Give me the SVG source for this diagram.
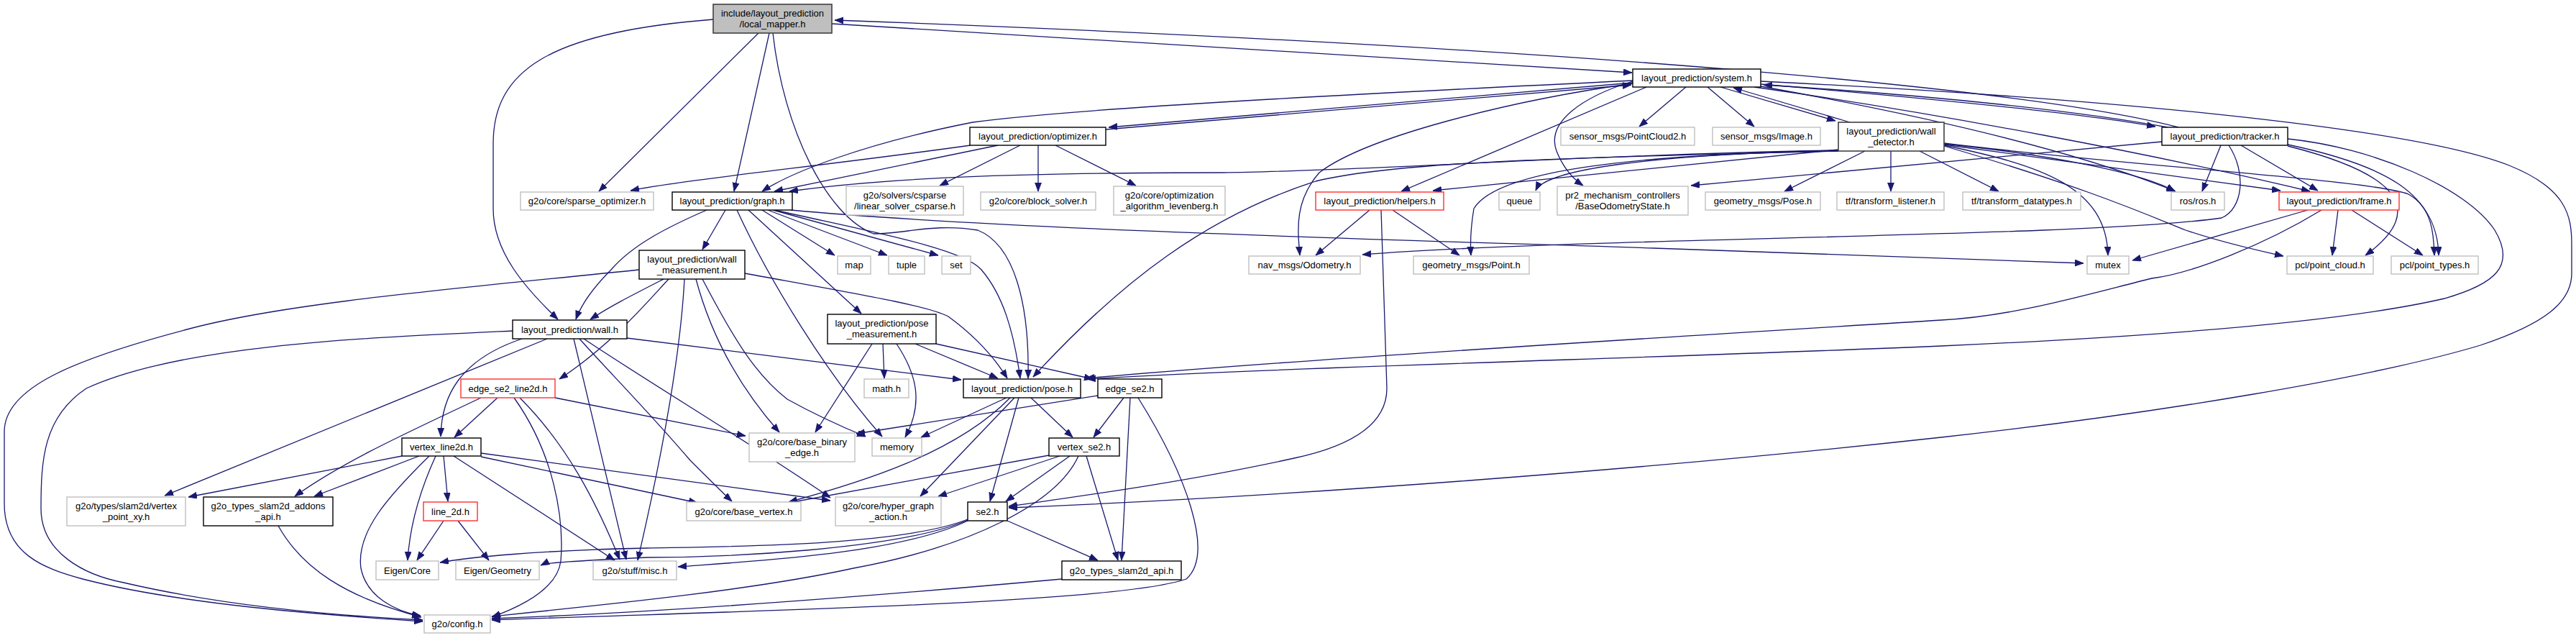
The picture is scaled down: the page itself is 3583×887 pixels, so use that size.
<svg xmlns="http://www.w3.org/2000/svg" width="3583" height="887" viewBox="0 0 3583 887">
<style>
.e{fill:none;stroke:#191970;stroke-width:1.3;marker-end:url(#a)}
.d rect{fill:#fff;stroke:#000;stroke-width:1.4}
.g rect{fill:#fff;stroke:#bfbfbf;stroke-width:1.4}
.r rect{fill:#fff;stroke:#ff3030;stroke-width:1.4}
.k rect{fill:#fff;stroke:#404040;stroke-width:1.6}
.root rect{fill:#bfbfbf;stroke:#404040;stroke-width:1.6}
text{font-family:"Liberation Sans",Arial,sans-serif;font-size:13px;text-anchor:middle;fill:#000}
</style>
<defs>
<marker id="a" markerUnits="userSpaceOnUse" markerWidth="13" markerHeight="10" refX="12" refY="4.5" orient="auto"><path d="M0,0 L12,4.5 L0,9 Z" fill="#191970" stroke="#191970" stroke-width="0.8"/></marker>
</defs>
<rect width="3583" height="887" fill="#fff"/>
<g id="edges">
<path class="e" d="M1055,46 L833,266"/>
<path class="e" d="M1070,46 L1021,266"/>
<path class="e" d="M992,27 C760,45 686,100 686,200 L686,290 C686,350 730,400 776,444"/>
<path class="e" d="M1157,33 L2270,101"/>
<path class="e" d="M3030,177 C2850,130 2300,70 1161,28"/>
<path class="e" d="M2449,113 C2900,135 3350,175 3490,230 C3570,262 3577,300 3577,340 L3577,380 C3577,420 3540,450 3450,480 C3300,525 3000,575 2700,608 C2300,652 1800,690 1403,706"/>
<path class="e" d="M2271,115 L1542,177"/>
<path class="e" d="M1538,180 L2269,118"/>
<path class="e" d="M2271,112 C1900,130 1500,150 1353,170 C1200,200 1100,240 1060,266"/>
<path class="e" d="M2271,116 C2100,140 1900,190 1835,240 C1800,280 1805,320 1808,355"/>
<path class="e" d="M2290,121 L1949,266"/>
<path class="e" d="M2271,113 C2200,135 2150,170 2165,210 C2175,235 2190,250 2202,258"/>
<path class="e" d="M2345,121 L2280,176"/>
<path class="e" d="M2375,121 L2440,176"/>
<path class="e" d="M2393,121 L2553,168"/>
<path class="e" d="M2573,170 L2411,122"/>
<path class="e" d="M2449,117 C2700,138 2900,158 2998,176"/>
<path class="e" d="M3015,177 C2900,156 2700,133 2453,118"/>
<path class="e" d="M2449,120 C2700,165 2900,215 3026,266"/>
<path class="e" d="M2440,121 C2700,158 3000,215 3213,266"/>
<path class="e" d="M1350,202 C1150,230 950,250 877,265"/>
<path class="e" d="M1388,202 L1077,266"/>
<path class="e" d="M1419,202 L1307,258"/>
<path class="e" d="M1444,202 L1444,266"/>
<path class="e" d="M1468,202 L1580,258"/>
<path class="e" d="M2557,209 C2200,215 1900,238 1700,240 C1450,240 1250,245 1098,266"/>
<path class="e" d="M2557,210 C2250,218 1950,222 1830,252 C1680,300 1560,390 1437,524"/>
<path class="e" d="M2557,208 L1993,265"/>
<path class="e" d="M2557,209 C2300,215 2150,235 2136,265"/>
<path class="e" d="M2557,210 C2250,215 2080,240 2050,290 C2045,320 2045,340 2046,355"/>
<path class="e" d="M2594,210 L2482,266"/>
<path class="e" d="M2630,210 L2630,266"/>
<path class="e" d="M2670,210 L2780,266"/>
<path class="e" d="M2704,200 C2850,215 2980,240 3025,266"/>
<path class="e" d="M2704,201 L3172,265"/>
<path class="e" d="M2704,202 C2840,230 2930,260 2932,355"/>
<path class="e" d="M2704,203 C2900,260 2990,300 3040,320 C3100,340 3150,350 3176,356"/>
<path class="e" d="M2704,199 C2950,230 3300,250 3350,270 C3385,290 3385,330 3386,355"/>
<path class="e" d="M3007,197 L2352,258"/>
<path class="e" d="M3089,202 L3063,266"/>
<path class="e" d="M3100,202 C3125,240 3120,290 3090,303 C2900,330 2200,330 1895,354"/>
<path class="e" d="M3117,202 L3224,265"/>
<path class="e" d="M3182,203 C3330,240 3380,290 3290,355"/>
<path class="e" d="M3182,201 C3320,230 3390,270 3392,355"/>
<path class="e" d="M3182,193 C3300,205 3430,260 3470,320 C3500,370 3470,395 3400,415 C3250,450 2950,470 2700,481 C2300,498 1800,510 1512,527"/>
<path class="e" d="M3229,292 C3150,340 3050,380 2993,387 C2900,410 2800,440 2700,445 C2300,470 1800,500 1510,526"/>
<path class="e" d="M3210,292 L2966,362"/>
<path class="e" d="M3252,292 L3244,355"/>
<path class="e" d="M3271,292 L3370,355"/>
<path class="e" d="M1905,292 L1830,355"/>
<path class="e" d="M1937,292 L2030,355"/>
<path class="e" d="M1921,292 L1929,540 C1929,590 1880,620 1800,637 C1650,670 1500,690 1403,704"/>
<path class="e" d="M983,292 C930,315 880,340 850,375 C825,400 808,425 801,444"/>
<path class="e" d="M1009,292 L977,347"/>
<path class="e" d="M1025,292 C1070,390 1150,520 1227,607"/>
<path class="e" d="M1041,292 L1198,436"/>
<path class="e" d="M1060,292 L1161,355"/>
<path class="e" d="M1068,292 L1234,355"/>
<path class="e" d="M1075,292 L1305,355"/>
<path class="e" d="M1078,292 C1200,320 1340,345 1365,375 C1395,410 1410,460 1419,526"/>
<path class="e" d="M1100,292 C1400,320 2000,335 2300,345 C2600,355 2800,362 2898,366"/>
<path class="e" d="M1075,46 C1090,180 1150,300 1215,325 C1260,325 1300,310 1360,320 C1410,340 1432,420 1430,526"/>
<path class="e" d="M923,388 C880,410 850,425 821,444"/>
<path class="e" d="M930,388 C900,420 850,480 778,527"/>
<path class="e" d="M889,375 C650,400 400,420 260,458 C100,500 6,540 6,600 L6,700 C6,770 60,790 115,805 C250,840 450,855 588,864"/>
<path class="e" d="M968,388 C990,470 1030,540 1084,601"/>
<path class="e" d="M977,388 C1020,470 1050,520 1095,555 C1140,580 1175,595 1204,607"/>
<path class="e" d="M952,388 C945,520 910,680 887,779"/>
<path class="e" d="M1036,380 C1200,410 1290,425 1319,440 C1360,470 1385,500 1401,526"/>
<path class="e" d="M713,460 C500,470 250,480 120,540 C60,580 57,640 57,707 C57,770 120,800 172,810 C300,840 450,855 588,862"/>
<path class="e" d="M761,471 L229,689"/>
<path class="e" d="M726,471 C640,500 614,550 613,607"/>
<path class="e" d="M798,471 L871,778"/>
<path class="e" d="M806,471 C850,520 900,570 960,640 C990,670 1005,685 1018,697"/>
<path class="e" d="M812,471 C900,530 1050,620 1155,692"/>
<path class="e" d="M872,470 L1337,528"/>
<path class="e" d="M692,553 L632,608"/>
<path class="e" d="M669,553 C570,600 480,640 410,690"/>
<path class="e" d="M715,553 C770,630 785,720 780,780 C775,820 720,845 684,858"/>
<path class="e" d="M723,553 C790,620 830,700 862,778"/>
<path class="e" d="M772,553 L1037,606"/>
<path class="e" d="M559,634 L262,691"/>
<path class="e" d="M583,634 L437,690"/>
<path class="e" d="M606,634 C585,680 570,730 567,779"/>
<path class="e" d="M597,634 C540,690 495,740 502,790 C510,830 550,850 585,856"/>
<path class="e" d="M617,634 L623,697"/>
<path class="e" d="M631,634 L855,779"/>
<path class="e" d="M669,635 L970,699"/>
<path class="e" d="M669,630 L1155,696"/>
<path class="e" d="M617,724 L580,779"/>
<path class="e" d="M637,724 L680,779"/>
<path class="e" d="M387,731 C420,790 480,830 586,858"/>
<path class="e" d="M1228,478 L1230,526"/>
<path class="e" d="M1247,478 C1275,520 1285,560 1259,608"/>
<path class="e" d="M1213,478 L1134,601"/>
<path class="e" d="M1273,478 L1388,526"/>
<path class="e" d="M1302,478 L1520,527"/>
<path class="e" d="M1400,553 L1281,608"/>
<path class="e" d="M1405,553 C1330,630 1200,670 1097,698"/>
<path class="e" d="M1411,553 L1280,690"/>
<path class="e" d="M1417,553 L1377,697"/>
<path class="e" d="M1434,553 L1492,608"/>
<path class="e" d="M1527,550 L1191,603"/>
<path class="e" d="M1563,553 L1521,608"/>
<path class="e" d="M1572,553 L1560,779"/>
<path class="e" d="M1583,553 C1650,660 1690,770 1650,805 C1550,840 1000,850 684,862"/>
<path class="e" d="M1459,633 L1097,699"/>
<path class="e" d="M1474,634 L1305,690"/>
<path class="e" d="M1488,634 L1399,697"/>
<path class="e" d="M1500,634 C1470,700 1350,760 1187,790 C1050,820 850,840 684,857"/>
<path class="e" d="M1511,634 L1555,779"/>
<path class="e" d="M1401,724 L1527,779"/>
<path class="e" d="M1346,722 C1250,760 1000,760 900,762 C750,765 650,775 612,782"/>
<path class="e" d="M1346,723 C1250,765 1000,775 900,775 C800,780 760,782 752,786"/>
<path class="e" d="M1346,724 C1250,770 1050,780 943,788"/>
<path class="e" d="M1477,805 C1200,830 900,852 684,860"/>
</g>
<g id="n_local_mapper" class="root"><rect x="992" y="6" width="165" height="40"/><text x="1074.5" y="23">include/layout_prediction</text><text x="1074.5" y="38">/local_mapper.h</text></g>
<g id="n_system" class="d"><rect x="2271" y="96" width="178" height="25"/><text x="2360" y="113">layout_prediction/system.h</text></g>
<g id="n_optimizer" class="d"><rect x="1349" y="177" width="189" height="25"/><text x="1443.5" y="194">layout_prediction/optimizer.h</text></g>
<g id="n_wall_detector" class="k"><rect x="2557" y="170" width="147" height="40"/><text x="2630.5" y="187">layout_prediction/wall</text><text x="2630.5" y="202">_detector.h</text></g>
<g id="n_tracker" class="d"><rect x="3007" y="177" width="175" height="25"/><text x="3094.5" y="194">layout_prediction/tracker.h</text></g>
<g id="n_pointcloud2" class="g"><rect x="2171" y="177" width="186" height="25"/><text x="2264" y="194">sensor_msgs/PointCloud2.h</text></g>
<g id="n_image" class="g"><rect x="2382" y="177" width="150" height="25"/><text x="2457" y="194">sensor_msgs/Image.h</text></g>
<g id="n_sparse_optimizer" class="g"><rect x="724" y="267" width="185" height="25"/><text x="816.5" y="284">g2o/core/sparse_optimizer.h</text></g>
<g id="n_graph" class="d"><rect x="935" y="267" width="167" height="25"/><text x="1018.5" y="284">layout_prediction/graph.h</text></g>
<g id="n_csparse" class="g"><rect x="1177" y="259" width="163" height="40"/><text x="1258.5" y="276">g2o/solvers/csparse</text><text x="1258.5" y="291">/linear_solver_csparse.h</text></g>
<g id="n_block_solver" class="g"><rect x="1364" y="267" width="160" height="25"/><text x="1444" y="284">g2o/core/block_solver.h</text></g>
<g id="n_levenberg" class="g"><rect x="1549" y="259" width="155" height="40"/><text x="1626.5" y="276">g2o/core/optimization</text><text x="1626.5" y="291">_algorithm_levenberg.h</text></g>
<g id="n_helpers" class="r"><rect x="1830" y="267" width="178" height="25"/><text x="1919" y="284">layout_prediction/helpers.h</text></g>
<g id="n_queue" class="g"><rect x="2085" y="267" width="57" height="25"/><text x="2113.5" y="284">queue</text></g>
<g id="n_pr2" class="g"><rect x="2166" y="259" width="182" height="40"/><text x="2257" y="276">pr2_mechanism_controllers</text><text x="2257" y="291">/BaseOdometryState.h</text></g>
<g id="n_geom_pose" class="g"><rect x="2372" y="267" width="160" height="25"/><text x="2452" y="284">geometry_msgs/Pose.h</text></g>
<g id="n_tf_listener" class="g"><rect x="2555" y="267" width="149" height="25"/><text x="2629.5" y="284">tf/transform_listener.h</text></g>
<g id="n_tf_datatypes" class="g"><rect x="2730" y="267" width="164" height="25"/><text x="2812" y="284">tf/transform_datatypes.h</text></g>
<g id="n_ros" class="g"><rect x="3020" y="267" width="74" height="25"/><text x="3057" y="284">ros/ros.h</text></g>
<g id="n_frame" class="r"><rect x="3170" y="267" width="167" height="25"/><text x="3253.5" y="284">layout_prediction/frame.h</text></g>
<g id="n_wall_measurement" class="d"><rect x="889" y="348" width="147" height="40"/><text x="962.5" y="365">layout_prediction/wall</text><text x="962.5" y="380">_measurement.h</text></g>
<g id="n_map" class="g"><rect x="1165" y="356" width="46" height="25"/><text x="1188" y="373">map</text></g>
<g id="n_tuple" class="g"><rect x="1236" y="356" width="50" height="25"/><text x="1261" y="373">tuple</text></g>
<g id="n_set" class="g"><rect x="1310" y="356" width="40" height="25"/><text x="1330" y="373">set</text></g>
<g id="n_odometry" class="g"><rect x="1737" y="356" width="155" height="25"/><text x="1814.5" y="373">nav_msgs/Odometry.h</text></g>
<g id="n_point" class="g"><rect x="1966" y="356" width="161" height="25"/><text x="2046.5" y="373">geometry_msgs/Point.h</text></g>
<g id="n_mutex" class="g"><rect x="2903" y="356" width="58" height="25"/><text x="2932" y="373">mutex</text></g>
<g id="n_point_cloud" class="g"><rect x="3181" y="356" width="120" height="25"/><text x="3241" y="373">pcl/point_cloud.h</text></g>
<g id="n_point_types" class="g"><rect x="3326" y="356" width="121" height="25"/><text x="3386.5" y="373">pcl/point_types.h</text></g>
<g id="n_wall" class="d"><rect x="713" y="445" width="159" height="26"/><text x="792.5" y="462.5">layout_prediction/wall.h</text></g>
<g id="n_pose_measurement" class="d"><rect x="1151" y="437" width="151" height="41"/><text x="1226.5" y="454">layout_prediction/pose</text><text x="1226.5" y="469">_measurement.h</text></g>
<g id="n_edge_se2_line2d" class="r"><rect x="641" y="527" width="131" height="26"/><text x="706.5" y="544.5">edge_se2_line2d.h</text></g>
<g id="n_math" class="g"><rect x="1202" y="527" width="62" height="26"/><text x="1233" y="544.5">math.h</text></g>
<g id="n_pose" class="d"><rect x="1340" y="527" width="163" height="26"/><text x="1421.5" y="544.5">layout_prediction/pose.h</text></g>
<g id="n_edge_se2" class="d"><rect x="1527" y="527" width="89" height="26"/><text x="1571.5" y="544.5">edge_se2.h</text></g>
<g id="n_vertex_line2d" class="d"><rect x="559" y="609" width="110" height="25"/><text x="614" y="626">vertex_line2d.h</text></g>
<g id="n_base_binary_edge" class="g"><rect x="1042" y="602" width="147" height="40"/><text x="1115.5" y="619">g2o/core/base_binary</text><text x="1115.5" y="634">_edge.h</text></g>
<g id="n_memory" class="g"><rect x="1213" y="609" width="69" height="25"/><text x="1247.5" y="626">memory</text></g>
<g id="n_vertex_se2" class="d"><rect x="1459" y="609" width="98" height="25"/><text x="1508" y="626">vertex_se2.h</text></g>
<g id="n_vertex_point_xy" class="g"><rect x="93" y="691" width="165" height="40"/><text x="175.5" y="708">g2o/types/slam2d/vertex</text><text x="175.5" y="723">_point_xy.h</text></g>
<g id="n_addons_api" class="d"><rect x="283" y="691" width="180" height="40"/><text x="373" y="708">g2o_types_slam2d_addons</text><text x="373" y="723">_api.h</text></g>
<g id="n_line_2d" class="r"><rect x="589" y="698" width="75" height="26"/><text x="626.5" y="715.5">line_2d.h</text></g>
<g id="n_base_vertex" class="g"><rect x="955" y="698" width="159" height="26"/><text x="1034.5" y="715.5">g2o/core/base_vertex.h</text></g>
<g id="n_hyper_graph_action" class="g"><rect x="1162" y="691" width="147" height="40"/><text x="1235.5" y="708">g2o/core/hyper_graph</text><text x="1235.5" y="723">_action.h</text></g>
<g id="n_se2" class="d"><rect x="1346" y="698" width="55" height="26"/><text x="1373.5" y="715.5">se2.h</text></g>
<g id="n_eigen_core" class="g"><rect x="523" y="780" width="87" height="26"/><text x="566.5" y="797.5">Eigen/Core</text></g>
<g id="n_eigen_geometry" class="g"><rect x="634" y="780" width="116" height="26"/><text x="692" y="797.5">Eigen/Geometry</text></g>
<g id="n_misc" class="g"><rect x="825" y="780" width="116" height="26"/><text x="883" y="797.5">g2o/stuff/misc.h</text></g>
<g id="n_slam2d_api" class="d"><rect x="1477" y="780" width="166" height="26"/><text x="1560" y="797.5">g2o_types_slam2d_api.h</text></g>
<g id="n_config" class="g"><rect x="590" y="855" width="92" height="25"/><text x="636" y="872">g2o/config.h</text></g>
</svg>
